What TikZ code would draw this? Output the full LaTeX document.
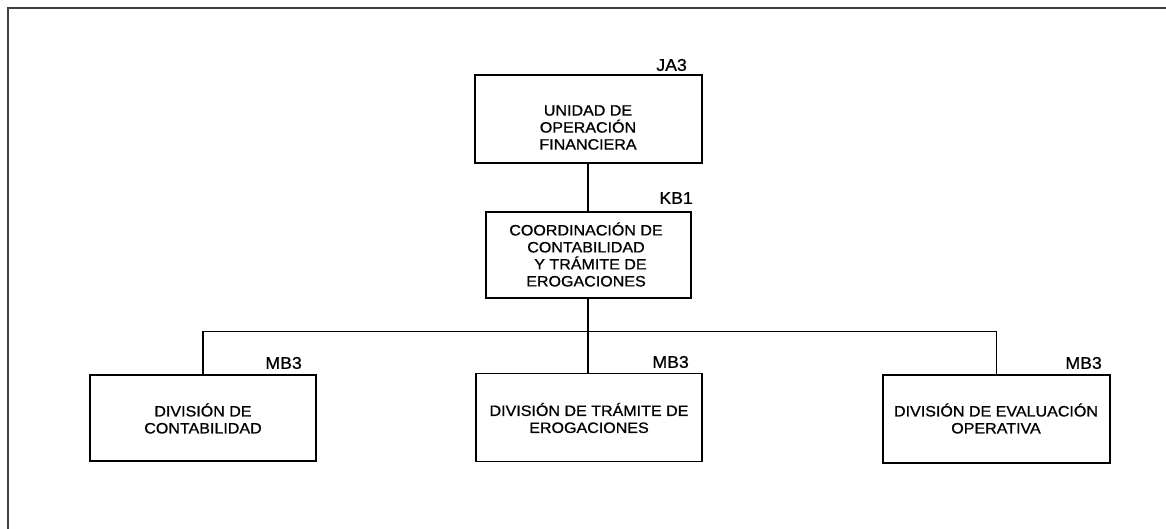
\documentclass[tikz,border=0pt]{standalone}
\usepackage{fontspec}
\newfontfamily\boxfont{Liberation Sans}[FakeStretch=1.07,FakeBold=0.9]
\newfontfamily\codefont{Liberation Sans}[FakeStretch=1.04,FakeBold=0.9]
\begin{document}
\begin{tikzpicture}[x=1pt,y=-1pt,
  unit/.style={draw=black,line width=1.6pt,fill=none,inner sep=0pt},
  txt/.style={align=center,font=\boxfont\fontsize{15}{17}\selectfont,inner sep=0pt},
  code/.style={anchor=east,font=\codefont\fontsize{17}{20}\selectfont,inner sep=0pt},
  link/.style={draw=black,line width=1.5pt}]
\useasboundingbox (0,0) rectangle (1166,529);
\clip (0,0) rectangle (1166,529);
% outer frame (cut by the page on the right and bottom)
\draw[line width=2pt,draw=black!75] (8,540) -- (8,8) -- (1180,8);

% boxes
\node[unit,minimum width=227pt,minimum height=88pt] (ua) at (588.5,119) {};
\node[unit,minimum width=205pt,minimum height=86pt] (kb) at (588.5,255) {};
\node[unit,minimum width=226pt,minimum height=86pt] (d1) at (203,418) {};
\node[unit,minimum width=226pt,minimum height=88pt] (d2) at (589,417.5) {};
\node[unit,minimum width=227pt,minimum height=88pt] (d3) at (996.5,419) {};

% texts
\node[txt] (uat) at (588,127.5) {UNIDAD DE\\OPERACIÓN\\FINANCIERA};
\node[txt] (kbt) at (586,254.5) {COORDINACIÓN DE\\CONTABILIDAD\\\ \ Y TRÁMITE DE\\EROGACIONES};
\node[txt] (d1t) at (203,418.5) {DIVISIÓN DE\\CONTABILIDAD};
\node[txt] (d2t) at (589,418) {DIVISIÓN DE TRÁMITE DE\\EROGACIONES};
\node[txt] (d3t) at (996,418.5) {DIVISIÓN DE EVALUACIÓN\\OPERATIVA};

% codes
\node[code] (uac) at (687,65) {JA3};
\node[code] (kbc) at (693,198) {KB1};
\node[code] (d1c) at (302,363) {MB3};
\node[code] (d2c) at (689,362) {MB3};
\node[code] (d3c) at (1102,363) {MB3};

% connectors
\coordinate (bus) at (588,331.5);
\draw[link] (588,0 |- ua.south) -- (588,0 |- kb.north);
\draw[link] (588,0 |- kb.south) -- (bus);
\draw[link] (bus) -- (588,0 |- d2.north);
\draw[link] (bus) -| (d1.north);
\draw[link] (bus) -| (d3.north);
\end{tikzpicture}
\end{document}
